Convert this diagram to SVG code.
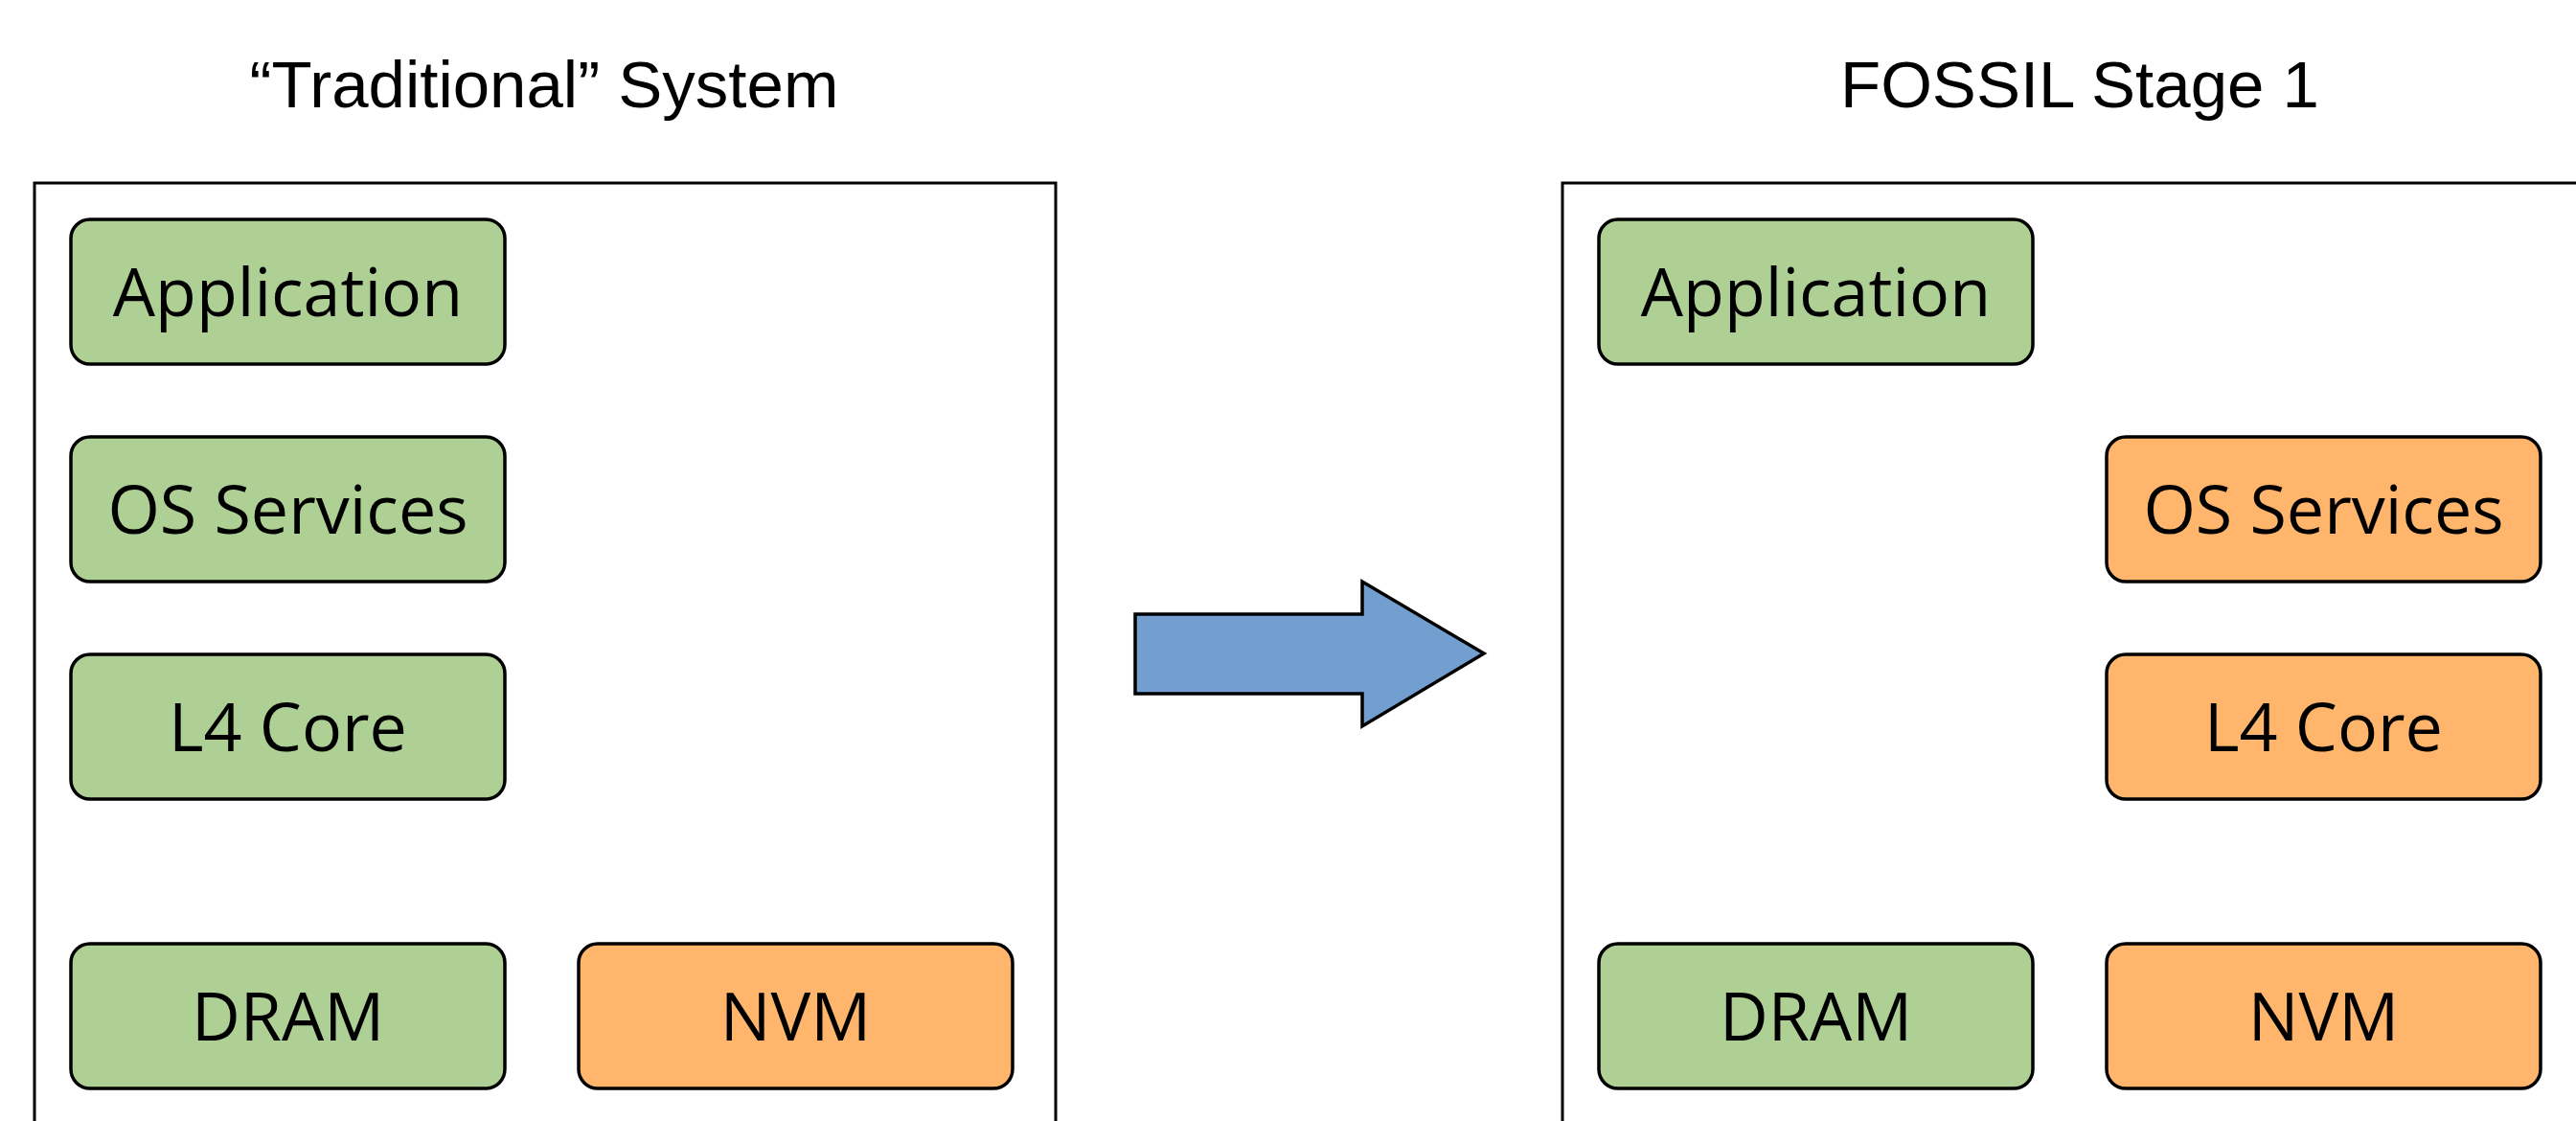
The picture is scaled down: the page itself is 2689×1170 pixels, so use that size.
<svg xmlns="http://www.w3.org/2000/svg" width="2689" height="1170" viewBox="0 0 2689 1170">
  <style>
    .frame { fill: #ffffff; stroke: #000000; stroke-width: 3; }
    .box { stroke: #000000; stroke-width: 3.5; }
    .green { fill: #afd095; }
    .orange { fill: #ffb66c; }
    .label { font-family: "Open Sans", "Noto Sans", sans-serif; font-size: 70px; fill: #000000; text-anchor: middle; }
    .title { font-family: "Liberation Sans", Arial, sans-serif; font-size: 69px; fill: #000000; text-anchor: middle; }
  </style>
  <rect width="2689" height="1170" fill="#ffffff"/>

  <!-- left panel -->
  <g id="traditional-system">
    <text class="title" x="568" y="112">“Traditional” System</text>
    <rect class="frame" x="36" y="191" width="1066" height="1000"/>
  </g>
  <g id="trad-application">
    <rect class="box green" x="74" y="229" width="453" height="151" rx="20"/>
    <text class="label" x="300.5" y="330">Application</text>
  </g>
  <g id="trad-os-services">
    <rect class="box green" x="74" y="456" width="453" height="151" rx="20"/>
    <text class="label" x="300.5" y="557">OS Services</text>
  </g>
  <g id="trad-l4-core">
    <rect class="box green" x="74" y="683" width="453" height="151" rx="20"/>
    <text class="label" x="300.5" y="784">L4 Core</text>
  </g>
  <g id="trad-dram">
    <rect class="box green" x="74" y="985" width="453" height="151" rx="20"/>
    <text class="label" x="300.5" y="1086">DRAM</text>
  </g>
  <g id="trad-nvm">
    <rect class="box orange" x="604" y="985" width="453" height="151" rx="20"/>
    <text class="label" x="830.5" y="1086">NVM</text>
  </g>

  <!-- transition arrow -->
  <g id="connectors">
    <polygon points="1185,641 1422,641 1422,607 1549,682 1422,758 1422,724 1185,724" fill="#729fcf" stroke="#000000" stroke-width="3.5" stroke-linejoin="miter"/>
  </g>

  <!-- right panel -->
  <g id="fossil-stage-1">
    <text class="title" x="2171" y="112">FOSSIL Stage 1</text>
    <rect class="frame" x="1631" y="191" width="1080" height="1000"/>
  </g>
  <g id="fossil-application">
    <rect class="box green" x="1669" y="229" width="453" height="151" rx="20"/>
    <text class="label" x="1895.5" y="330">Application</text>
  </g>
  <g id="fossil-os-services">
    <rect class="box orange" x="2199" y="456" width="453" height="151" rx="20"/>
    <text class="label" x="2425.5" y="557">OS Services</text>
  </g>
  <g id="fossil-l4-core">
    <rect class="box orange" x="2199" y="683" width="453" height="151" rx="20"/>
    <text class="label" x="2425.5" y="784">L4 Core</text>
  </g>
  <g id="fossil-dram">
    <rect class="box green" x="1669" y="985" width="453" height="151" rx="20"/>
    <text class="label" x="1895.5" y="1086">DRAM</text>
  </g>
  <g id="fossil-nvm">
    <rect class="box orange" x="2199" y="985" width="453" height="151" rx="20"/>
    <text class="label" x="2425.5" y="1086">NVM</text>
  </g>
</svg>
